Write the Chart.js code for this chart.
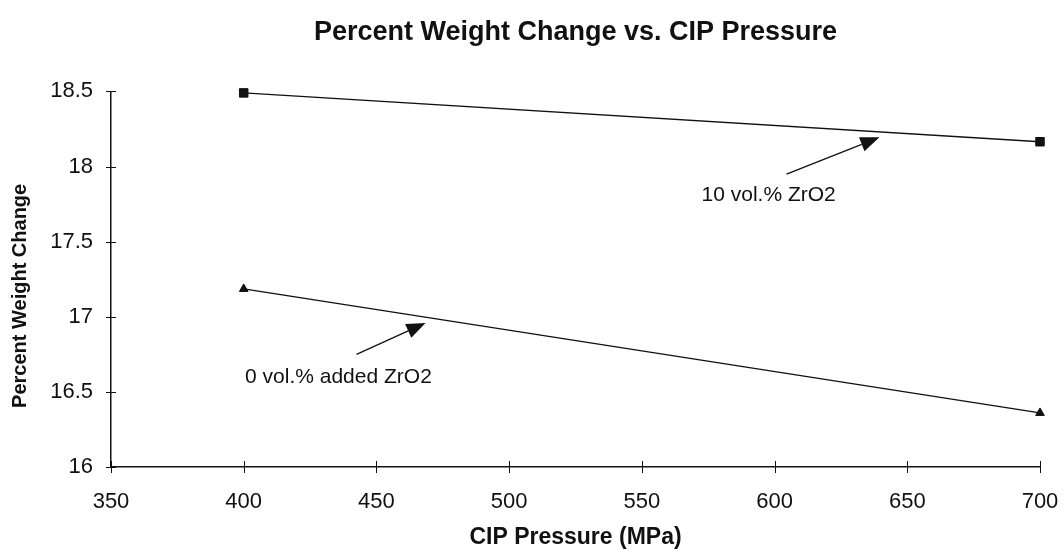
<!DOCTYPE html>
<html>
<head>
<meta charset="utf-8">
<title>Percent Weight Change vs. CIP Pressure</title>
<script src="https://cdn.jsdelivr.net/npm/chart.js@4.4.1/dist/chart.umd.min.js"></script>
<style>
    html, body { margin: 0; padding: 0; background: #fff; }
    #wrap { width: 1064px; height: 554px; }
</style>
</head>
<body>
<div id="wrap"><canvas id="grafico"></canvas></div>
<script>
const FONTE = "'Liberation Sans', Arial, sans-serif";

// pressões CIP (MPa)
const pressoes = [400, 700];
// variação de massa (%)
const zro2_10 = [18.49, 18.165];
const zro2_0 = [17.185, 16.36];

const ticksX = [350, 400, 450, 500, 550, 600, 650, 700];
const ticksY = [16, 16.5, 17, 17.5, 18, 18.5];

// notas com seta: texto, início da seta, ponta da seta (em unidades dos eixos)
const notas = [
    { texto: "10 vol.% ZrO2", tx: 572.5, ty: 17.81, de: [604.5, 17.95], para: [639.5, 18.194] },
    { texto: "0 vol.% added ZrO2", tx: 400.5, ty: 16.60, de: [442.5, 16.75], para: [468.5, 16.958] }
];

function pontos(ys) {
    return pressoes.map((p, i) => ({ x: p, y: ys[i] }));
}

// marcas de divisão que atravessam os eixos
const marcasEixos = {
    id: 'marcasEixos',
    afterDraw(chart) {
        const ctx = chart.ctx;
        const area = chart.chartArea;
        const sx = chart.scales.x, sy = chart.scales.y;
        ctx.save();
        ctx.strokeStyle = '#111';
        ctx.lineWidth = 1;
        ticksY.forEach(v => {
            const y = Math.round(sy.getPixelForValue(v)) + 0.5;
            ctx.beginPath();
            ctx.moveTo(area.left - 5, y);
            ctx.lineTo(area.left + 5, y);
            ctx.stroke();
        });
        ticksX.forEach(v => {
            const x = Math.round(sx.getPixelForValue(v)) + 0.5;
            ctx.beginPath();
            ctx.moveTo(x, area.bottom - 6);
            ctx.lineTo(x, area.bottom + 6);
            ctx.stroke();
        });
        ctx.restore();
    }
};

// textos e setas das séries
const anotacoes = {
    id: 'anotacoes',
    afterDraw(chart) {
        const ctx = chart.ctx;
        const sx = chart.scales.x, sy = chart.scales.y;
        ctx.save();
        ctx.fillStyle = '#111';
        ctx.strokeStyle = '#111';
        ctx.lineWidth = 1.3;
        ctx.font = "21px " + FONTE;
        ctx.textBaseline = 'middle';
        notas.forEach(n => {
            ctx.fillText(n.texto, sx.getPixelForValue(n.tx), sy.getPixelForValue(n.ty));
            const x0 = sx.getPixelForValue(n.de[0]), y0 = sy.getPixelForValue(n.de[1]);
            const x1 = sx.getPixelForValue(n.para[0]), y1 = sy.getPixelForValue(n.para[1]);
            const ang = Math.atan2(y1 - y0, x1 - x0);
            const comp = 19, larg = 7.5;
            const bx = x1 - comp * Math.cos(ang), by = y1 - comp * Math.sin(ang);
            ctx.beginPath();
            ctx.moveTo(x0, y0);
            ctx.lineTo(bx, by);
            ctx.stroke();
            ctx.beginPath();
            ctx.moveTo(x1, y1);
            ctx.lineTo(bx + larg * Math.sin(ang), by - larg * Math.cos(ang));
            ctx.lineTo(bx - larg * Math.sin(ang), by + larg * Math.cos(ang));
            ctx.closePath();
            ctx.fill();
        });
        ctx.restore();
    }
};

const ctx = document.getElementById('grafico').getContext('2d');
new Chart(ctx, {
    type: 'line',
    data: {
        datasets: [
            {
                label: '10 vol.% ZrO2',
                data: pontos(zro2_10),
                borderColor: '#111',
                backgroundColor: '#111',
                borderWidth: 1.3,
                pointStyle: 'rect',
                pointRadius: 6,
                pointBorderWidth: 1,
                clip: false,
                tension: 0
            },
            {
                label: '0 vol.% added ZrO2',
                data: pontos(zro2_0),
                borderColor: '#111',
                backgroundColor: '#111',
                borderWidth: 1.3,
                pointStyle: 'triangle',
                pointRadius: 5,
                pointBorderWidth: 1,
                clip: false,
                tension: 0
            }
        ]
    },
    options: {
        responsive: true,
        maintainAspectRatio: false,
        animation: false,
        layout: { padding: { left: 0, right: 24, top: 0, bottom: 0 } },
        plugins: {
            legend: { display: false },
            tooltip: { enabled: false },
            title: {
                display: true,
                fullSize: false,
                text: 'Percent Weight Change vs. CIP Pressure',
                color: '#111',
                font: { family: FONTE, size: 27, weight: 'bold' },
                padding: { top: 16, bottom: 43 }
            }
        },
        scales: {
            x: {
                type: 'linear',
                min: 350,
                max: 700,
                afterBuildTicks: s => { s.ticks = ticksX.map(v => ({ value: v })); },
                afterFit: s => {
                    s.height = 87;
                    s.paddingLeft = 0;
                    s.paddingRight = 0;
                },
                ticks: { color: '#111', font: { family: FONTE, size: 22 }, padding: 22, maxRotation: 0 },
                grid: { drawOnChartArea: false, drawTicks: false },
                border: { color: '#111', width: 1.5 },
                title: {
                    display: true,
                    text: 'CIP Pressure (MPa)',
                    color: '#111',
                    font: { family: FONTE, size: 23, weight: 'bold' },
                    padding: { top: 0, bottom: 3 }
                }
            },
            y: {
                type: 'linear',
                min: 16,
                max: 18.5,
                afterBuildTicks: s => { s.ticks = ticksY.map(v => ({ value: v })); },
                afterFit: s => { s.width = 111; },
                ticks: {
                    color: '#111',
                    font: { family: FONTE, size: 22 },
                    padding: 18,
                    callback: v => String(v)
                },
                grid: { drawOnChartArea: false, drawTicks: false },
                border: { color: '#111', width: 1.5 },
                title: {
                    display: true,
                    // espaços no fim baixam um pouco o título
                    text: 'Percent Weight Change      ',
                    color: '#111',
                    font: { family: FONTE, size: 20, weight: 'bold' },
                    padding: { top: 8, bottom: 0 }
                }
            }
        }
    },
    plugins: [marcasEixos, anotacoes]
});
</script>
</body>
</html>
